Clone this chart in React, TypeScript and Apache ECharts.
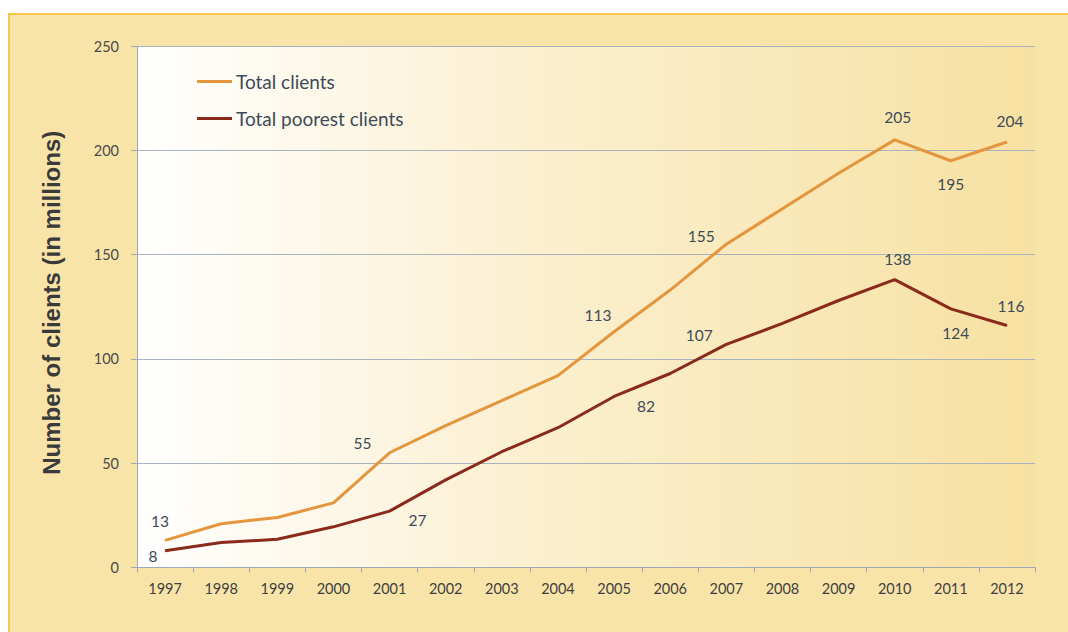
import React, { useEffect, useRef } from "react";
import * as echarts from "echarts";

const years = ["1997","1998","1999","2000","2001","2002","2003","2004","2005","2006","2007","2008","2009","2010","2011","2012"];
const totalClients = [13, 21, 24, 31, 55, 68, 80, 92, 113, 133, 155, 172, 189, 205, 195, 204];
const poorestClients = [8, 12, 13.5, 19.5, 27, 42, 55.5, 67, 82, 93, 107, 117, 128, 138, 124, 116];
const yTicks = [0, 50, 100, 150, 200, 250];

// which points carry a value label, and where the label sits relative to the point (style)
const totalLabelOffsets: Record<number, [number, number]> = {
  0: [-5, -19], 4: [-27, -10], 8: [-16, -17], 10: [-25, -8], 13: [3, -23], 14: [0, 23], 15: [3, -21],
};
const poorestLabelOffsets: Record<number, [number, number]> = {
  0: [-12, 5], 4: [28, 9], 8: [32, 10], 10: [-27, -9], 13: [3, -21], 14: [5, 24], 15: [4, -20],
};

const FONT = "Lato, 'Open Sans', sans-serif";
const TEXT = "#3d4b58";

function buildData(values: number[], offsets: Record<number, [number, number]>) {
  return values.map((v, i) => {
    const off = offsets[i];
    if (!off) return { value: v, label: { show: false } };
    return {
      value: v,
      label: {
        show: true,
        position: "inside",
        offset: off,
        formatter: String(Math.round(v)),
      },
    };
  });
}

export default function App() {
  const ref = useRef<HTMLDivElement>(null);
  useEffect(() => {
    if (!ref.current) return;
    const chart = echarts.init(ref.current, undefined, { renderer: "svg" });
    const labelStyle = { color: TEXT, fontSize: 15.5, fontFamily: FONT };
    chart.setOption({
      animation: false,
      graphic: [
        {
          type: "rect",
          z: -10,
          silent: true,
          shape: { x: 9, y: 14, width: 1070, height: 640 },
          style: { fill: "#f8e4a9", stroke: "#f5c451", lineWidth: 2 },
        },
      ],
      grid: {
        left: 137,
        right: 33,
        top: 46,
        bottom: 64.5,
        show: true,
        borderWidth: 0,
        backgroundColor: new echarts.graphic.LinearGradient(0, 0, 1, 0, [
          { offset: 0, color: "#ffffff" },
          { offset: 0.45, color: "#fbefcf" },
          { offset: 1, color: "#f7e1a2" },
        ]),
      },
      legend: {
        orient: "vertical",
        left: 192,
        top: 67,
        itemGap: 18,
        itemWidth: 35,
        itemHeight: 3,
        icon: "rect",
        textStyle: { color: TEXT, fontSize: 19, fontFamily: FONT, padding: [0, 0, 0, -1] },
        data: ["Total clients", "Total poorest clients"],
      },
      xAxis: {
        type: "category",
        data: years,
        boundaryGap: true,
        axisLine: { show: true, lineStyle: { color: "#9fa9b3", width: 1 } },
        axisTick: { show: true, length: 5, lineStyle: { color: "#9fa9b3" } },
        axisLabel: { color: "#3f3f3f", fontSize: 14.5, fontFamily: FONT, margin: 13, interval: 0 },
        splitLine: { show: false },
      },
      yAxis: {
        type: "value",
        min: 0,
        max: 250,
        interval: 50,
        name: "Number of clients (in millions)",
        nameLocation: "middle",
        nameRotate: 90,
        nameGap: 74,
        nameTextStyle: {
          color: "#3a3a3a",
          fontSize: 24,
          fontWeight: "bold",
          fontFamily: "'Liberation Sans', Arial, sans-serif",
          padding: [0, 0, 0, 8],
        },
        axisLine: { show: true, lineStyle: { color: "#9fa9b3", width: 1 } },
        axisTick: { show: true, length: 6, lineStyle: { color: "#9fa9b3" } },
        axisLabel: {
          color: "#4a4a4a",
          fontSize: 14.5,
          fontFamily: FONT,
          margin: 18,
          formatter: (v: number) => (yTicks.includes(v) ? String(v) : ""),
        },
        splitLine: { show: true, lineStyle: { color: "#a9b3bd", width: 1 } },
      },
      series: [
        {
          name: "Total clients",
          type: "line",
          data: buildData(totalClients, totalLabelOffsets),
          symbol: "circle",
          symbolSize: 1,
          showSymbol: true,
          lineStyle: { color: "#e3963d", width: 3 },
          itemStyle: { color: "#e3963d" },
          label: labelStyle,
          z: 3,
        },
        {
          name: "Total poorest clients",
          type: "line",
          data: buildData(poorestClients, poorestLabelOffsets),
          symbol: "circle",
          symbolSize: 1,
          showSymbol: true,
          lineStyle: { color: "#8a2a1b", width: 3 },
          itemStyle: { color: "#8a2a1b" },
          label: labelStyle,
          z: 4,
        },
      ],
    });
    return () => chart.dispose();
  }, []);
  return (
    <div
      ref={ref}
      style={{ position: "absolute", left: 0, top: 0, width: 1068, height: 632 }}
    />
  );
}
